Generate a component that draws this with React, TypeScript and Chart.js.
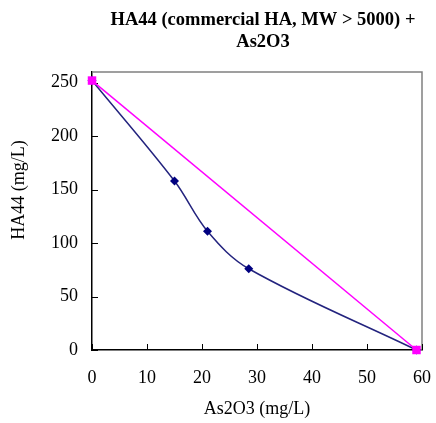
import React, { useEffect, useRef } from 'react';
import { Chart, registerables } from 'chart.js';

Chart.register(...registerables);

const TITLE_LINES = ['HA44 (commercial HA, MW > 5000) +', 'As2O3'];
const X_TITLE = 'As2O3 (mg/L)';
const Y_TITLE = 'HA44 (mg/L)';

const MEASURED_X = [0, 15, 21, 28.5, 59];
const MEASURED_Y = [252, 158, 111, 76, 0];
const LINEAR_X = [0, 59];
const LINEAR_Y = [252, 0];

const X_MIN = 0;
const X_MAX = 60;
const X_STEP = 10;
const Y_MIN = 0;
const Y_MAX = 260;
const Y_STEP = 50;

const FONT = '"Liberation Serif", "Times New Roman", serif';

const decor = {
  id: 'decor',
  beforeDatasetsDraw(chart: any) {
    const { ctx, chartArea: a, scales } = chart;
    ctx.save();
    ctx.strokeStyle = '#808080';
    ctx.lineWidth = 1.5;
    ctx.beginPath();
    ctx.moveTo(a.left, a.top);
    ctx.lineTo(a.right, a.top);
    ctx.lineTo(a.right, a.bottom);
    ctx.stroke();
    ctx.strokeStyle = '#000';
    ctx.lineWidth = 1;
    ctx.beginPath();
    scales.x.ticks.forEach((t: any) => {
      const px = Math.round(scales.x.getPixelForValue(t.value)) + 0.5;
      ctx.moveTo(px, a.bottom);
      ctx.lineTo(px, a.bottom - 6);
    });
    scales.y.ticks.forEach((t: any) => {
      const py = Math.round(scales.y.getPixelForValue(t.value)) + 0.5;
      ctx.moveTo(a.left, py);
      ctx.lineTo(a.left + 6, py);
    });
    ctx.stroke();
    ctx.restore();
  },
  afterDraw(chart: any) {
    const { ctx } = chart;
    ctx.save();
    ctx.fillStyle = '#000';
    ctx.textAlign = 'center';
    ctx.textBaseline = 'middle';
    ctx.font = `bold 18.5px ${FONT}`;
    ctx.fillText(TITLE_LINES[0], 263, 20);
    ctx.fillText(TITLE_LINES[1], 263, 42);
    ctx.font = `18px ${FONT}`;
    ctx.fillText(X_TITLE, 257, 409);
    ctx.translate(19, 190);
    ctx.rotate(-Math.PI / 2);
    ctx.fillText(Y_TITLE, 0, 0);
    ctx.restore();
  },
};

export default function App() {
  const ref = useRef<HTMLCanvasElement>(null);

  useEffect(() => {
    if (!ref.current) return;
    const chart = new Chart(ref.current, {
      type: 'scatter',
      data: {
        datasets: [
          {
            label: 'Linear',
            data: LINEAR_X.map((x, i) => ({ x, y: LINEAR_Y[i] })),
            showLine: true,
            borderColor: '#FF00FF',
            backgroundColor: '#FF00FF',
            borderWidth: 1.5,
            pointStyle: 'rect',
            pointRadius: 6,
            pointBorderWidth: 0,
            tension: 0,
            clip: false,
            order: 0,
          },
          {
            label: 'Measured',
            data: MEASURED_X.map((x, i) => ({ x, y: MEASURED_Y[i] })),
            showLine: true,
            borderColor: '#23237e',
            backgroundColor: '#000080',
            borderWidth: 1.5,
            pointStyle: 'rectRot',
            pointRadius: 4.5,
            pointBorderWidth: 0,
            tension: 0.35,
            clip: false,
            order: 1,
          },
        ],
      },
      options: {
        animation: false,
        responsive: false,
        maintainAspectRatio: false,
        layout: { padding: { left: 0, right: 14, top: 72, bottom: 0 } },
        plugins: {
          legend: { display: false },
          title: { display: false },
          tooltip: { enabled: false },
        },
        scales: {
          x: {
            type: 'linear',
            min: X_MIN,
            max: X_MAX,
            ticks: {
              stepSize: X_STEP,
              color: '#000',
              font: { family: FONT, size: 18 },
              padding: 17,
              maxRotation: 0,
            },
            grid: { display: false, drawTicks: false },
            border: { display: true, color: '#000', width: 1.5 },
            afterFit: (s: any) => {
              s.height = 73;
              s.paddingLeft = 0;
              s.paddingRight = 0;
            },
          },
          y: {
            type: 'linear',
            min: Y_MIN,
            max: Y_MAX,
            ticks: {
              stepSize: Y_STEP,
              includeBounds: false,
              color: '#000',
              font: { family: FONT, size: 18 },
              padding: 14,
            },
            afterBuildTicks: (s: any) => {
              s.ticks = s.ticks.filter((t: any) => t.value % Y_STEP === 0);
            },
            grid: { display: false, drawTicks: false },
            border: { display: true, color: '#000', width: 1.5 },
            afterFit: (s: any) => {
              s.width = 92;
              s.paddingTop = 0;
              s.paddingBottom = 0;
            },
          },
        },
      },
      plugins: [decor],
    });
    return () => chart.destroy();
  }, []);

  return (
    <div style={{ position: 'absolute', left: 0, top: 0, width: 436, height: 423, background: '#fff' }}>
      <canvas ref={ref} width={436} height={423} style={{ display: 'block' }} />
    </div>
  );
}
